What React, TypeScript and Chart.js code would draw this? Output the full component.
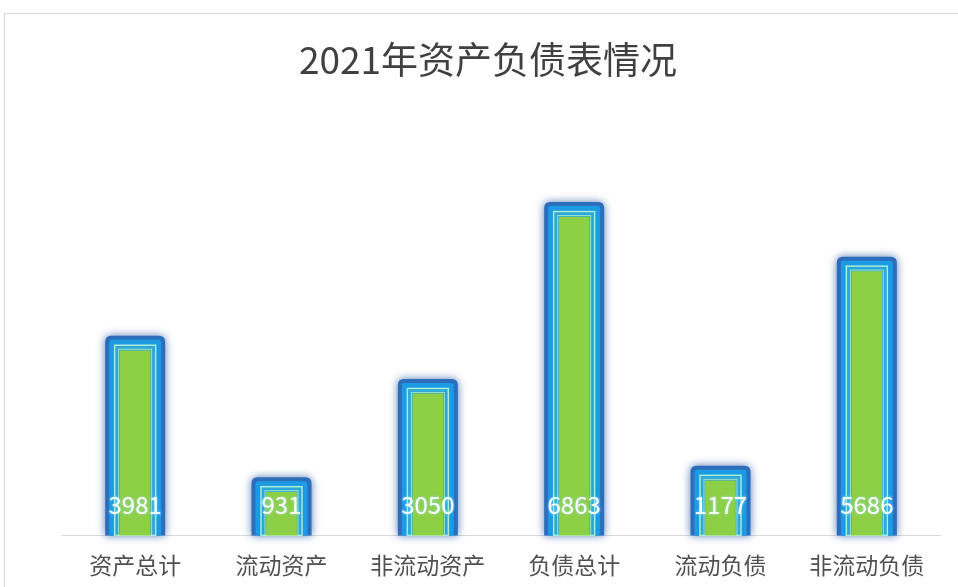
import React, { useEffect, useRef } from "react";
import { Chart, registerables } from "chart.js";

Chart.register(...registerables);

const titleText = "2021年资产负债表情况";
const categories = ["资产总计", "流动资产", "非流动资产", "负债总计", "流动负债", "非流动负债"];
const values = [3981, 931, 3050, 6863, 1177, 5686];
const yMax = 8050;

const FONT = '"Noto Sans CJK SC", "Noto Sans", sans-serif';

function roundTop(ctx: CanvasRenderingContext2D, l: number, t: number, r: number, b: number, rad: number) {
  ctx.beginPath();
  ctx.moveTo(l, b);
  ctx.lineTo(l, t + rad);
  ctx.quadraticCurveTo(l, t, l + rad, t);
  ctx.lineTo(r - rad, t);
  ctx.quadraticCurveTo(r, t, r, t + rad);
  ctx.lineTo(r, b);
  ctx.closePath();
}

const glowPlugin = {
  id: "glow",
  beforeDatasetsDraw(chart: any) {
    const ctx = chart.ctx as CanvasRenderingContext2D;
    const meta = chart.getDatasetMeta(0);
    meta.data.forEach((el: any) => {
      const { x, y, width, base } = el.getProps(["x", "y", "width", "base"], true);
      const l = x - width / 2;
      const r = x + width / 2;
      ctx.save();
      ctx.shadowColor = "rgba(30,80,160,0.75)";
      ctx.shadowBlur = 8;
      ctx.fillStyle = "#2C6EBB";
      roundTop(ctx, l - 15, y - 15, r + 15, base, 6);
      ctx.fill();
      ctx.shadowBlur = 0;
      ctx.shadowColor = "transparent";
      ctx.fillStyle = "#1C9BE5";
      roundTop(ctx, l - 11, y - 11, r + 11, base, 3);
      ctx.fill();
      ctx.fillStyle = "#2AA8D8";
      ctx.fillRect(l - 5, y - 5, width + 10, base - y + 5);
      ctx.strokeStyle = "#A9ECD6";
      ctx.lineWidth = 1.5;
      ctx.strokeRect(l - 5.5, y - 5.5, width + 11, base - y + 5.5);
      ctx.strokeStyle = "rgba(190,240,200,0.8)";
      ctx.lineWidth = 1;
      ctx.strokeRect(l - 1.5, y - 1.5, width + 3, base - y + 1.5);
      ctx.restore();
    });
  },
  afterDatasetsDraw(chart: any) {
    const ctx = chart.ctx as CanvasRenderingContext2D;
    const meta = chart.getDatasetMeta(0);
    ctx.save();
    ctx.font = `24px ${FONT}`;
    ctx.textAlign = "center";
    ctx.textBaseline = "middle";
    ctx.fillStyle = "#FFFFFF";
    ctx.shadowColor = "rgba(160,230,255,0.9)";
    ctx.shadowBlur = 3;
    meta.data.forEach((el: any, i: number) => {
      const { x, base } = el.getProps(["x", "base"], true);
      ctx.fillText(String(values[i]), x, base - 31);
    });
    ctx.restore();
    ctx.save();
    ctx.font = `37px ${FONT}`;
    ctx.textAlign = "center";
    ctx.textBaseline = "middle";
    ctx.fillStyle = "#404040";
    ctx.fillText(titleText, 488, 60);
    ctx.restore();
  },
};

export default function App() {
  const ref = useRef<HTMLCanvasElement | null>(null);
  useEffect(() => {
    if (!ref.current) return;
    const chart = new Chart(ref.current, {
      type: "bar",
      data: {
        labels: categories,
        datasets: [
          {
            data: values,
            backgroundColor: "#8DCF45",
            borderWidth: 0,
            barThickness: 30,
          },
        ],
      },
      options: {
        animation: false,
        responsive: false,
        maintainAspectRatio: false,
        layout: { padding: { left: 62, right: 18, top: 162, bottom: -8 } },
        plugins: {
          legend: { display: false },
          title: { display: false },
          tooltip: { enabled: false },
        },
        scales: {
          y: { display: false, min: 0, max: yMax },
          x: {
            grid: { display: false, drawTicks: false },
            border: { display: true, color: "#D9D9D9", width: 1 },
            ticks: {
              color: "#505050",
              font: { size: 23, family: FONT },
              padding: 16,
              maxRotation: 0,
              autoSkip: false,
            },
          },
        },
      },
      plugins: [glowPlugin],
    });
    return () => chart.destroy();
  }, []);
  return (
    <div style={{ position: "fixed", left: 0, top: 0, width: 958, height: 587, overflow: "hidden", background: "#FFFFFF" }}>
      <div
        style={{
          position: "absolute",
          left: 4,
          top: 13,
          width: 1200,
          height: 1200,
          border: "1px solid #D9D9D9",
          boxSizing: "border-box",
        }}
      />
      <canvas ref={ref} width={958} height={587} style={{ position: "absolute", left: 0, top: 0, width: 958, height: 587 }} />
    </div>
  );
}
